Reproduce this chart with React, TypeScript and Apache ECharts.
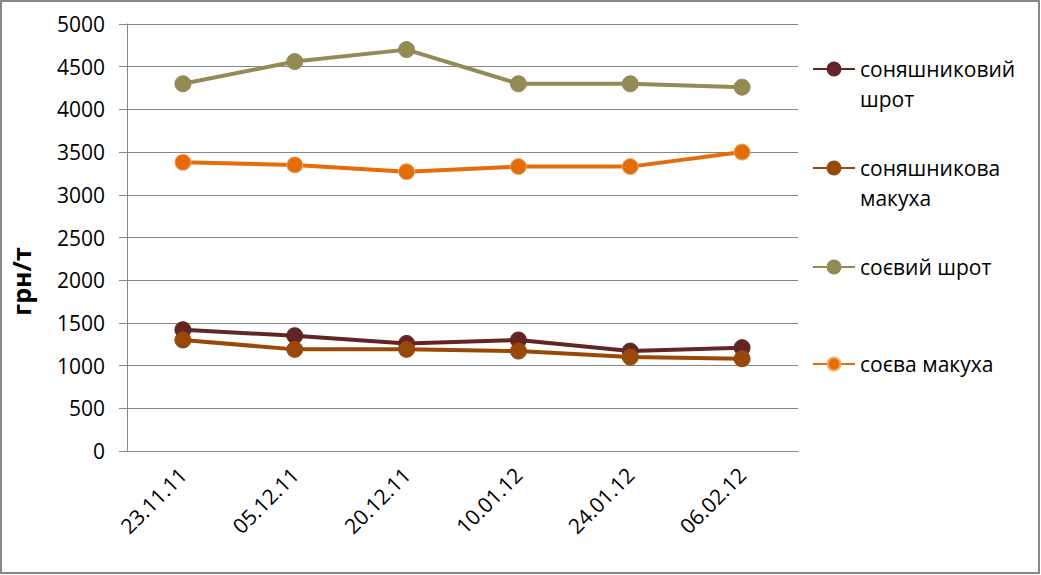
import React, { useEffect, useRef } from "react";
import * as echarts from "echarts";

const categories = ["23.11.11", "05.12.11", "20.12.11", "10.01.12", "24.01.12", "06.02.12"];
const sunflowerMeal = [1420, 1350, 1260, 1300, 1170, 1210];
const sunflowerCake = [1300, 1190, 1190, 1170, 1100, 1080];
const soyMeal = [4300, 4560, 4700, 4300, 4300, 4260];
const soyCake = [3380, 3350, 3270, 3330, 3330, 3500];
const seriesNames = ["соняшниковий шрот", "соняшникова макуха", "соєвий шрот", "соєва макуха"];
const legendLabels = [" \nсоняшниковий\nшрот", " \nсоняшникова\nмакуха", "соєвий шрот", "соєва макуха"];
const yTicks = { min: 0, max: 5000, interval: 500 };

const FONT = "Open Sans";
const colors = ["#632523", "#984807", "#948A54", "#E46C0A"];
const borders = ["#632523", "#984807", "#948A54", "#F7A868"];
const legendCenters = [69, 168, 267, 364];

export default function App() {
  const ref = useRef<HTMLDivElement>(null);
  useEffect(() => {
    if (!ref.current) return;
    const chart = echarts.init(ref.current, undefined, { renderer: "svg" });
    const data = [sunflowerMeal, sunflowerCake, soyMeal, soyCake];
    const legends = seriesNames.map((name, i) => {
      const lines = legendLabels[i].split("\n").length;
      return {
        show: true,
        orient: "vertical",
        left: 812,
        top: legendCenters[i] - (lines * 30) / 2,
        padding: 0,
        itemWidth: 42,
        itemHeight: 16,
        data: [name],
        formatter: () => legendLabels[i],
        selectedMode: false,
        textStyle: {
          fontFamily: FONT,
          fontSize: 21,
          lineHeight: 30,
          color: "#000",
        },
      };
    });
    chart.setOption({
      animation: false,
      backgroundColor: "#fff",
      graphic: [
        {
          type: "rect",
          shape: { x: 1, y: 1, width: 1038, height: 572 },
          style: { fill: "none", stroke: "#888", lineWidth: 2 },
          silent: true,
        },
      ],
      legend: legends,
      grid: { left: 122, right: 243, top: 24, bottom: 124, containLabel: false },
      xAxis: {
        type: "category",
        data: categories,
        boundaryGap: true,
        axisLine: { lineStyle: { color: "#868686", width: 1 } },
        axisTick: { show: false },
        axisLabel: {
          rotate: 45,
          interval: 0,
          margin: 20,
          fontFamily: FONT,
          fontSize: 21,
          color: "#000",
        },
      },
      yAxis: {
        type: "value",
        min: yTicks.min,
        max: yTicks.max,
        interval: yTicks.interval,
        name: "грн/т",
        nameLocation: "middle",
        nameRotate: 90,
        nameGap: 94,
        nameTextStyle: {
          fontFamily: FONT,
          fontSize: 25,
          fontWeight: "bold",
          color: "#000",
          padding: [0, 88, 0, 0],
        },
        axisLine: { show: true, lineStyle: { color: "#868686", width: 1 } },
        axisTick: { show: true, length: 8, lineStyle: { color: "#868686" } },
        axisLabel: {
          margin: 22,
          fontFamily: FONT,
          fontSize: 21,
          color: "#000",
          formatter: (v: number) => String(v),
        },
        splitLine: { lineStyle: { color: "#868686", width: 1 } },
      },
      series: seriesNames.map((name, i) => ({
        name,
        type: "line",
        data: data[i],
        symbol: "circle",
        symbolSize: 16,
        lineStyle: { color: colors[i], width: 4 },
        itemStyle: { color: colors[i], borderColor: borders[i], borderWidth: 1 },
        z: 2,
      })),
    });
    return () => chart.dispose();
  }, []);
  return (
    <div
      ref={ref}
      style={{ position: "fixed", left: 0, top: 0, width: 1041, height: 575 }}
    />
  );
}
